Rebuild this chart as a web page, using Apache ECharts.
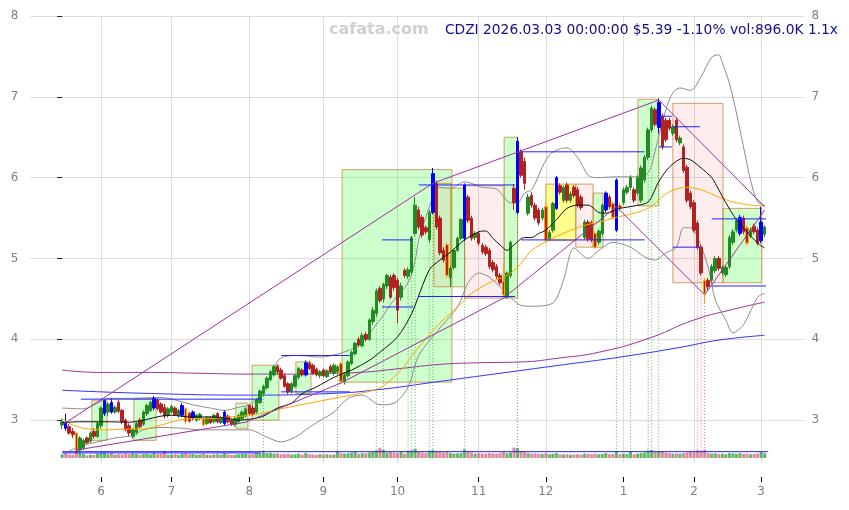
<!DOCTYPE html>
<html><head><meta charset="utf-8">
<script src="https://cdn.jsdelivr.net/npm/echarts@6/dist/echarts.min.js"></script>
<style>html,body{margin:0;padding:0;background:#fff}#c{width:849px;height:510px}</style>
</head><body><div id="c"></div>
<script>
// ---------- DATA ----------
const dates = [
'05-15','05-16','05-19','05-20','05-21','05-22','05-23','05-27','05-28','05-29','05-30',
'06-02','06-03','06-04','06-05','06-06','06-09','06-10','06-11','06-12','06-13','06-16','06-17','06-18','06-20','06-23','06-24','06-25','06-26','06-27','06-30',
'07-01','07-02','07-03','07-07','07-08','07-09','07-10','07-11','07-14','07-15','07-16','07-17','07-18','07-21','07-22','07-23','07-24','07-25','07-28','07-29','07-30','07-31',
'08-01','08-04','08-05','08-06','08-07','08-08','08-11','08-12','08-13','08-14','08-15','08-18','08-19','08-20','08-21','08-22','08-25','08-26','08-27','08-28','08-29',
'09-02','09-03','09-04','09-05','09-08','09-09','09-10','09-11','09-12','09-15','09-16','09-17','09-18','09-19','09-22','09-23','09-24','09-25','09-26','09-29','09-30',
'10-01','10-02','10-03','10-06','10-07','10-08','10-09','10-10','10-13','10-14','10-15','10-16','10-17','10-20','10-21','10-22','10-23','10-24','10-27','10-28','10-29','10-30','10-31',
'11-03','11-04','11-05','11-06','11-07','11-10','11-11','11-12','11-13','11-14','11-17','11-18','11-19','11-20','11-21','11-24','11-25','11-26','11-28',
'12-01','12-02','12-03','12-04','12-05','12-08','12-09','12-10','12-11','12-12','12-15','12-16','12-17','12-18','12-19','12-22','12-23','12-24','12-26','12-29','12-30','12-31',
'01-02','01-05','01-06','01-07','01-08','01-09','01-12','01-13','01-14','01-15','01-16','01-20','01-21','01-22','01-23','01-26','01-27','01-28','01-29','01-30',
'02-02','02-03','02-04','02-05','02-06','02-09','02-10','02-11','02-12','02-13','02-17','02-18','02-19','02-20','02-23','02-24','02-25','02-26','02-27',
'03-02','03-03'];

const opens = [
2.94,2.97,2.92,2.86,2.84,2.63,2.66,2.78,2.74,2.86,
2.80,2.93,3.08,3.10,3.22,3.10,3.22,3.12,3.00,2.93,
2.80,2.85,3.00,2.95,3.08,3.12,3.15,3.25,3.20,3.16,
3.06,3.10,3.15,3.06,3.06,3.14,3.08,3.02,3.00,3.02,
3.02,2.96,3.03,2.98,3.08,2.97,2.96,3.05,3.00,2.95,
2.98,3.02,3.05,3.18,3.15,3.10,3.22,3.33,3.40,3.50,
3.56,3.66,3.62,3.55,3.45,3.36,3.42,3.53,3.62,3.56,
3.70,3.68,3.63,3.55,3.62,3.54,3.66,3.58,3.60,3.70,
3.48,3.55,3.70,3.82,4.00,3.92,4.06,4.00,4.22,4.32,
4.63,4.50,4.66,4.77,4.79,4.73,4.52,4.85,4.78,4.83,
5.31,5.60,5.51,5.38,5.23,5.57,5.93,5.50,5.10,5.17,
4.76,4.89,5.10,5.25,5.25,5.76,5.50,5.26,5.31,5.16,
5.14,5.10,4.95,4.90,4.79,4.72,4.52,4.79,5.87,5.57,
6.32,6.20,5.56,5.78,5.66,5.60,5.50,5.64,5.25,5.35,
5.62,5.90,5.72,5.91,5.72,5.88,5.85,5.76,5.26,5.45,
5.44,5.31,5.20,5.31,5.60,5.76,5.68,5.35,5.66,5.69,
5.82,5.88,5.85,5.81,5.72,5.97,6.25,6.59,6.84,6.62,
6.76,6.71,6.71,6.55,6.71,6.43,6.38,6.13,5.81,5.69,
5.44,5.14,4.73,4.73,4.73,4.85,5.00,4.82,4.80,4.90,
5.20,5.35,5.31,5.50,5.38,5.28,5.40,5.35,5.22,5.30];
const closes = [
2.98,2.90,2.84,2.82,2.60,2.78,2.75,2.72,2.84,2.80,
2.96,3.15,3.24,3.20,3.10,3.16,3.11,2.98,2.88,2.84,
2.88,2.96,2.92,3.10,3.18,3.22,3.27,3.14,3.10,3.05,
3.14,3.17,3.07,3.12,3.18,2.98,2.99,3.10,3.06,3.07,
2.94,3.03,2.97,3.06,2.98,3.03,3.10,2.98,2.95,3.02,
3.06,3.10,3.14,3.08,3.08,3.25,3.36,3.42,3.52,3.60,
3.66,3.60,3.52,3.42,3.35,3.45,3.55,3.64,3.56,3.71,
3.64,3.58,3.56,3.60,3.55,3.61,3.60,3.68,3.66,3.48,
3.56,3.72,3.84,3.95,3.93,4.05,4.00,4.24,4.36,4.60,
4.48,4.68,4.79,4.52,4.64,4.36,4.66,4.79,4.86,5.26,
5.66,5.39,5.29,5.33,5.57,6.05,5.39,5.07,4.98,4.79,
4.88,5.10,5.25,5.48,5.91,5.47,5.25,5.31,5.19,5.08,
5.06,4.90,4.86,4.78,4.70,4.55,4.82,5.20,5.69,6.45,
6.03,5.93,5.76,5.66,5.50,5.44,5.60,5.23,5.32,5.68,
6.00,5.82,5.88,5.72,5.80,5.78,5.66,5.63,5.45,5.24,
5.23,5.14,5.34,5.66,5.81,5.64,5.51,5.97,5.62,5.85,
5.88,6.00,5.72,6.00,6.12,6.25,6.59,6.86,6.66,6.93,
6.38,6.47,6.61,6.63,6.47,6.49,6.09,5.72,5.64,5.35,
5.14,4.82,4.57,4.65,4.90,5.00,4.88,4.89,4.89,5.26,
5.33,5.47,5.51,5.33,5.19,5.35,5.33,5.19,5.45,5.39];
const lows = [
2.89,2.87,2.82,2.78,2.58,2.60,2.63,2.70,2.72,2.77,
2.78,2.90,3.05,3.05,3.08,3.08,3.09,2.95,2.86,2.80,
2.77,2.82,2.90,2.93,3.05,3.10,3.12,3.12,3.08,3.02,
3.03,3.08,3.05,3.03,3.04,2.95,2.97,3.00,2.98,3.00,
2.92,2.94,2.95,2.96,2.96,2.95,2.94,2.96,2.93,2.92,
2.96,3.00,3.03,3.06,3.05,3.08,3.20,3.30,3.38,3.48,
3.54,3.56,3.50,3.40,3.32,3.33,3.40,3.50,3.54,3.54,
3.62,3.56,3.54,3.52,3.53,3.52,3.58,3.55,3.57,3.45,
3.44,3.53,3.68,3.80,3.90,3.90,3.97,3.98,4.18,4.28,
4.45,4.46,4.62,4.50,4.60,4.20,4.48,4.76,4.75,4.80,
5.28,5.36,5.26,5.30,5.20,5.55,5.36,5.04,4.95,4.76,
4.65,4.86,5.08,5.22,5.22,5.44,5.22,5.23,5.16,5.05,
5.03,4.87,4.83,4.75,4.67,4.50,4.50,4.76,5.60,5.55,
6.00,5.85,5.53,5.63,5.47,5.41,5.47,5.20,5.22,5.32,
5.60,5.79,5.69,5.69,5.69,5.75,5.63,5.60,5.23,5.21,
5.20,5.12,5.17,5.28,5.57,5.61,5.48,5.33,5.58,5.66,
5.79,5.85,5.69,5.78,5.69,5.94,6.22,6.56,6.63,6.55,
6.35,6.44,6.58,6.52,6.44,6.40,6.06,5.69,5.61,5.32,
5.11,4.79,4.45,4.60,4.70,4.82,4.85,4.79,4.77,4.87,
5.17,5.32,5.28,5.30,5.16,5.25,5.30,5.16,5.19,5.26];
const highs = [
3.02,3.08,2.95,2.90,2.86,2.80,2.77,2.80,2.86,2.90,
2.98,3.17,3.26,3.22,3.27,3.18,3.25,3.14,3.02,2.96,
2.90,2.98,3.03,3.12,3.20,3.24,3.30,3.27,3.22,3.20,
3.16,3.19,3.17,3.14,3.21,3.16,3.10,3.12,3.08,3.09,
3.04,3.05,3.05,3.08,3.10,3.05,3.12,3.07,3.02,3.04,
3.08,3.12,3.16,3.20,3.19,3.27,3.38,3.44,3.54,3.62,
3.68,3.69,3.65,3.58,3.47,3.47,3.57,3.66,3.64,3.74,
3.73,3.70,3.65,3.62,3.64,3.63,3.69,3.70,3.68,3.72,
3.58,3.74,3.86,3.97,4.03,4.08,4.09,4.26,4.40,4.63,
4.66,4.70,4.81,4.80,4.82,4.76,4.70,4.88,4.89,5.28,
5.76,5.64,5.54,5.41,5.60,6.12,5.96,5.53,5.14,5.20,
4.90,5.12,5.27,5.50,5.93,5.79,5.53,5.34,5.34,5.19,
5.17,5.13,4.98,4.93,4.82,4.93,4.84,5.22,5.92,6.50,
6.35,6.25,5.80,5.82,5.69,5.63,5.63,5.67,5.35,5.70,
6.02,5.93,5.90,5.94,5.83,5.91,5.88,5.79,5.48,5.48,
5.47,5.34,5.36,5.68,5.83,5.79,5.71,5.99,5.69,5.88,
5.91,6.03,5.88,6.03,6.15,6.28,6.62,6.89,6.87,6.98,
6.79,6.74,6.74,6.66,6.74,6.52,6.41,6.16,5.84,5.72,
5.47,5.17,4.76,4.76,4.93,5.03,5.03,4.92,4.92,5.29,
5.36,5.50,5.54,5.53,5.41,5.38,5.43,5.38,5.64,5.41];
const volumes = [
700,900,650,600,1400,900,750,500,600,550,
800,900,1000,700,900,600,700,650,800,700,
850,750,600,700,800,650,950,700,800,1300,
600,650,700,550,800,900,700,750,600,650,
800,600,550,650,700,600,900,650,550,600,
700,750,800,650,700,900,1000,1300,900,950,
800,850,700,750,800,650,700,800,600,950,
700,650,600,700,650,700,600,650,1300,900,
800,900,1000,1100,800,900,850,1000,1100,1400,
1900,1500,1000,1100,1000,900,1200,800,1300,1400,
1700,1100,1000,900,1300,1500,1200,1100,1000,1200,
900,800,850,900,1600,1100,1000,800,900,850,
800,900,850,800,900,1100,900,1000,1900,1800,
1300,1100,900,800,850,800,750,900,700,800,
900,700,650,700,600,650,700,650,800,750,
700,800,700,750,900,700,750,1300,700,800,
750,1200,700,800,900,1000,1400,1500,1100,1300,
1100,1000,900,800,850,800,900,1000,1100,1000,
1400,1300,1500,900,800,850,750,800,700,900,
850,800,900,750,800,700,750,800,1100,896];

const blueIdx = [1,12,14,26,34,37,46,69,105,114,129,140,154,157,169,192,198];
const orangeIdx = [4,35,40,79,109,125,137,151,156,158,182,194];
const signalUp = [57,78,89,91,98,99,100,104,105,114,129,157,161,166,167,169];
const signalDown = [180,181,182];

// overlay lines: [index, price]
const maShort = [[0,2.97],[5,2.98],[12,2.98],[19,2.975],[23,3.0],[28,3.05],[31,3.06],[36,3.04],[41,3.04],[46,3.03],[50,3.0],[53,3.01],[57,3.05],[61,3.15],[65,3.21],[68,3.33],[72,3.41],[77,3.53],[82,3.62],[87,3.74],[90,3.84],[95,4.03],[99,4.32],[104,4.86],[107,4.98],[110,5.08],[114,5.23],[118,5.33],[120,5.34],[122,5.25],[124,5.17],[126,5.10],[128,5.17],[131,5.26],[133,5.26],[135,5.31],[137,5.35],[140,5.48],[143,5.62],[146,5.66],[149,5.66],[152,5.57],[154,5.56],[158,5.62],[162,5.65],[166,5.70],[169,5.95],[172,6.13],[176,6.24],[178,6.22],[181,6.12],[184,6.0],[186,5.85],[188,5.69],[191,5.48],[194,5.33],[197,5.19],[199,5.13]];
const maMid = [[0,3.02],[2,2.96],[6,2.9],[13,2.88],[19,2.89],[23,2.89],[28,2.94],[33,3.0],[37,3.02],[42,3.02],[47,3.04],[51,3.05],[57,3.09],[63,3.15],[70,3.21],[77,3.27],[82,3.31],[90,3.40],[96,3.62],[100,3.85],[107,4.2],[112,4.4],[116,4.57],[121,4.7],[126,4.79],[129,4.89],[133,5.1],[138,5.23],[143,5.33],[148,5.41],[152,5.45],[157,5.51],[162,5.56],[166,5.62],[169,5.72],[171,5.80],[174,5.86],[177,5.88],[181,5.85],[186,5.76],[190,5.70],[195,5.66],[199,5.65]];
const bandUpper = [[0,3.15],[6,3.14],[10,3.21],[13,3.27],[20,3.27],[28,3.28],[32,3.25],[37,3.19],[42,3.15],[46,3.12],[50,3.16],[53,3.19],[57,3.35],[59,3.56],[62,3.77],[67,3.8],[73,3.78],[79,3.83],[84,3.93],[90,4.24],[94,4.49],[98,4.7],[100,4.98],[101,5.23],[103,5.51],[105,5.76],[106,5.88],[110,5.87],[114,5.95],[119,5.88],[123,5.86],[127,5.69],[129,5.69],[131,5.81],[133,5.85],[138,6.28],[143,6.37],[146,6.25],[149,6.03],[151,6.0],[157,6.01],[162,6.01],[166,6.06],[168,6.34],[171,6.84],[173,7.05],[175,7.11],[178,7.08],[181,7.25],[184,7.49],[186,7.52],[187,7.42],[189,7.17],[191,6.8],[193,6.38],[195,5.97],[197,5.70],[199,5.66]];
const bandLower = [[2,2.62],[6,2.69],[10,2.73],[15,2.78],[20,2.81],[23,2.88],[28,2.91],[34,2.9],[39,2.88],[46,2.88],[53,2.88],[58,2.79],[62,2.73],[66,2.79],[70,2.91],[74,3.02],[77,3.1],[81,3.27],[85,3.31],[90,3.19],[94,3.21],[98,3.41],[101,3.8],[107,4.14],[112,4.4],[115,4.7],[118,4.82],[121,4.77],[124,4.65],[127,4.52],[130,4.42],[133,4.41],[139,4.45],[142,4.73],[145,5.13],[149,5.0],[152,5.1],[156,5.2],[161,5.14],[165,5.02],[168,4.98],[171,5.07],[174,5.14],[176,5.38],[178,5.38],[180,5.26],[183,4.89],[185,4.49],[188,4.24],[190,4.08],[193,4.18],[197,4.52],[199,4.57]];
const maLongPurple = [[0,3.62],[11,3.59],[25,3.59],[39,3.58],[53,3.57],[67,3.57],[76,3.58],[84,3.59],[96,3.64],[107,3.69],[118,3.71],[130,3.72],[141,3.77],[152,3.84],[166,4.01],[179,4.24],[189,4.36],[199,4.46]];
const maLongBlue = [[0,3.37],[25,3.33],[53,3.31],[76,3.33],[90,3.38],[107,3.48],[124,3.58],[141,3.68],[158,3.78],[175,3.90],[186,3.99],[199,4.05]];
const trendHigh = [[0,2.94],[105,5.93],[169,6.96],[199,5.64]];
const trendLow = [[4,2.63],[52,2.975],[79,3.46],[125,4.51],[157,5.64],[182,4.55],[199,5.6]];
// horizontal levels: [fromIndex, toIndex, price]
const levels = [[5.3,56.6,3.26],[62,81.5,3.80],[62,81.5,3.35],[90.6,99.4,5.23],[90.6,99.4,4.40],[101,128.3,5.91],[101,128.3,4.53],[130,165,6.32],[130,165,5.23],[169,172.7,6.76],[169,172.7,6.38],[173,180.7,6.63],[173,180.7,5.14],[184,199.4,5.49],[184,199.4,4.66],[0,56,2.595],[0,200,2.61]];
// zones: [fromIndex, toIndex, top, bottom, kind 0=green 1=red 2=yellow]
const zones = [[8.4,12.7,3.24,2.75,0],[20.3,26.6,3.27,2.75,0],[49.2,52.6,3.21,2.90,0],[53.8,61.4,3.68,3.0,0],[66.2,70.5,3.72,3.33,0],[79.3,110.4,6.10,3.47,0],[105.3,110.1,5.93,4.65,1],[110.1,114,5.87,4.65,0],[114,125.2,5.90,4.51,1],[125.2,129,6.50,4.51,0],[137,145.5,5.92,5.22,2],[145.5,150.4,5.92,5.14,1],[150.4,153.2,5.81,5.14,0],[163.1,169,6.97,5.65,0],[173,187.2,6.92,4.70,1],[187.2,198.2,5.62,4.70,0]];

const titleText = 'CDZI 2026.03.03 00:00:00 $5.39 -1.10% vol:896.0K 1.1x';
const watermark = 'cafata.com';

// ---------- BUILD ----------
const PAD_L = 9, PAD_R = 11, N = dates.length;
const cats = [];
for (let k = 0; k < PAD_L; k++) cats.push('pl' + k);
dates.forEach(d => cats.push(d));
for (let k = 0; k < PAD_R; k++) cats.push('pr' + k);
const monthStart = new Set();
for (let k = 1; k < N; k++) if (dates[k].slice(0,2) !== dates[k-1].slice(0,2)) monthStart.add(k + PAD_L);
const isMS = (idx) => monthStart.has(idx);

const upC = '#228b22', dnC = '#b22222';
const cdata = cats.map((_, k) => {
  const i = k - PAD_L;
  if (i < 0 || i >= N) return ['-','-','-','-'];
  const v = [opens[i], closes[i], lows[i], highs[i]];
  if (blueIdx.includes(i)) return {value: v, itemStyle: {color:'#0000ff', color0:'#0000ff', borderColor:'#0000ff', borderColor0:'#0000ff'}};
  if (orangeIdx.includes(i)) return {value: v, itemStyle: {borderColor:'#ffa500', borderColor0:'#ffa500'}};
  return v;
});
const vdata = cats.map((_, k) => {
  const i = k - PAD_L;
  if (i < 0 || i >= N) return '-';
  return {value: volumes[i], itemStyle: {color: closes[i] >= opens[i] ? 'rgba(40,150,40,0.7)' : 'rgba(200,60,90,0.6)'}};
});
const sigData = signalUp.map(i => [i, lows[i], 0]).concat(signalDown.map(i => [i, lows[i], 1]));

function lineS(data, color, smooth, width, z) {
  return {type:'line', xAxisIndex:1, yAxisIndex:0, data, showSymbol:false, symbol:'none',
    smooth, lineStyle:{color, width}, z: z || 4, silent:true};
}
const zoneFill = ['rgba(0,255,0,0.2)','rgba(240,80,80,0.1)','rgba(255,255,0,0.45)'];

const option = {
  animation: false,
  backgroundColor: '#fff',
  grid: [
    {left: 30.4, right: 45.5, top: 16, height: 447},
    {left: 30.4, right: 45.5, top: 446, height: 12}
  ],
  xAxis: [
    {type:'category', gridIndex:0, data: cats, boundaryGap:false, offset:14,
     axisLine:{show:false},
     axisTick:{show:true, interval:isMS, length:5, lineStyle:{color:'#000', width:1}},
     axisLabel:{interval:isMS, formatter:(v)=> String(parseInt(v.slice(0,2),10)), color:'#808080', fontSize:12, margin:9, fontFamily:'DejaVu Sans'},
     splitLine:{show:true, interval:isMS, lineStyle:{color:'#dcdcdc', width:1}}},
    {type:'value', gridIndex:0, min:-PAD_L, max:N + PAD_R - 1, show:false},
    {type:'category', gridIndex:1, data: cats, boundaryGap:false, show:false}
  ],
  yAxis: [
    {type:'value', gridIndex:0, position:'left', min:2.47, max:8,
     axisLine:{show:false}, axisTick:{show:true, length:5, lineStyle:{color:'#222'}},
     axisLabel:{color:'#808080', fontSize:12, margin:12, showMinLabel:false, fontFamily:'DejaVu Sans'},
     splitLine:{show:true, showMinLine:false, lineStyle:{color:'#dcdcdc', width:1}}},
    {type:'value', gridIndex:0, position:'right', min:2.47, max:8,
     axisLine:{show:false}, axisTick:{show:false},
     axisLabel:{color:'#808080', fontSize:12, margin:8, showMinLabel:false, fontFamily:'DejaVu Sans'},
     splitLine:{show:false}},
    {type:'value', gridIndex:1, min:0, max:2200, show:false}
  ],
  graphic: [
    {type:'text', left:329, top:22, z:10, style:{text: watermark, font:'bold 16px "DejaVu Sans"', fill:'#d0d0d0'}},
    {type:'text', right:11, top:23, z:10, style:{text: titleText, font:'13.8px "DejaVu Sans"', fill:'#10108c'}}
  ],
  series: [
    {type:'custom', xAxisIndex:1, yAxisIndex:0, z:1, silent:true, data: zones,
     encode:{x:[0,1], y:[2,3]},
     renderItem:(params, api) => {
       const p0 = api.coord([api.value(0), api.value(2)]);
       const p1 = api.coord([api.value(1), api.value(3)]);
       return {type:'rect', shape:{x:p0[0], y:p0[1], width:p1[0]-p0[0], height:p1[1]-p0[1]},
         style:{fill: zoneFill[api.value(4)], stroke:'rgba(205,135,65,0.8)', lineWidth:1}};
     }},
    {type:'custom', xAxisIndex:1, yAxisIndex:0, z:2, silent:true, data: sigData,
     encode:{x:0, y:1},
     renderItem:(params, api) => {
       const a = api.coord([api.value(0), api.value(1)]);
       const b = api.coord([api.value(0), 2.62]);
       return {type:'line', shape:{x1:a[0], y1:a[1], x2:b[0], y2:b[1]},
         style:{stroke: api.value(2) ? 'rgba(220,60,60,0.75)' : 'rgba(40,160,40,0.75)', lineWidth:1, lineDash:[1,2]}};
     }},
    {type:'custom', xAxisIndex:1, yAxisIndex:0, z:5, silent:true, data: levels,
     encode:{x:[0,1], y:2},
     renderItem:(params, api) => {
       const a = api.coord([api.value(0), api.value(2)]);
       const b = api.coord([api.value(1), api.value(2)]);
       return {type:'line', shape:{x1:a[0], y1:a[1], x2:b[0], y2:b[1]},
         style:{stroke:'#2222ff', lineWidth:1}};
     }},
    lineS(maLongPurple, '#a030a0', true, 1, 3),
    lineS(maLongBlue, '#3030ff', true, 1, 3),
    lineS(bandUpper, '#8c8c8c', 0.3, 1, 3),
    lineS(bandLower, '#8c8c8c', 0.3, 1, 3),
    lineS(maMid, '#ffa500', 0.3, 1, 4),
    lineS(maShort, '#111111', 0.3, 1, 4),
    lineS(trendHigh, '#a030a0', false, 1, 4),
    lineS(trendLow, '#a030a0', false, 1, 4),
    {type:'candlestick', xAxisIndex:0, yAxisIndex:0, z:3, barWidth:3, silent:true,
     itemStyle:{color:upC, color0:dnC, borderColor:upC, borderColor0:dnC, borderWidth:1},
     data: cdata},
    {type:'bar', xAxisIndex:2, yAxisIndex:2, barWidth:3, silent:true, data: vdata, z:2}
  ]
};
const chart = echarts.init(document.getElementById('c'), null, {renderer:'canvas'});
chart.setOption(option);
</script>
</body></html>
